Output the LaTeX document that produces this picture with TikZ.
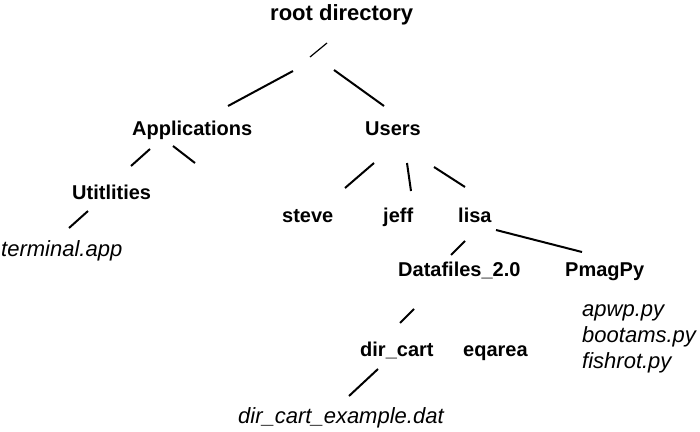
\documentclass[tikz,border=0pt]{standalone}
\usepackage{fontspec}
\setmainfont{Liberation Sans}
\begin{document}
\begin{tikzpicture}[x=1pt,y=-1pt,
  dirlabel/.style={anchor=base west,inner sep=0pt,font=\fontsize{20}{24}\selectfont\bfseries},
  rootlabel/.style={anchor=base west,inner sep=0pt,font=\fontsize{22}{26}\selectfont\bfseries},
  filelabel/.style={anchor=base west,inner sep=0pt,font=\fontsize{22}{26}\selectfont\itshape},
  link/.style={line width=2pt}]
\useasboundingbox (0,0) rectangle (700,431);
% labels
\node[rootlabel] (root) at (270,20) {root directory};
\node[dirlabel] (apps) at (132,135) {Applications};
\node[dirlabel] (users) at (365,135) {Users};
\node[dirlabel] (util) at (72,199) {Utitlities};
\node[filelabel] (term) at (1,256) {terminal.app};
\node[dirlabel] (steve) at (282,222) {steve};
\node[dirlabel] (jeff) at (383,222) {jeff};
\node[dirlabel] (lisa) at (458,222) {lisa};
\node[dirlabel] (data) at (398,276) {Datafiles\_2.0};
\node[dirlabel] (pmag) at (565,276) {PmagPy};
\node[filelabel] (apwp) at (582,316) {apwp.py};
\node[filelabel] (boot) at (582,342) {bootams.py};
\node[filelabel] (fish) at (582,368) {fishrot.py};
\node[dirlabel] (dircart) at (360,356) {dir\_cart};
\node[dirlabel] (eqarea) at (463,356) {eqarea};
\node[filelabel] (example) at (238,423) {dir\_cart\_example.dat};
% connector end points
\coordinate (r1a) at (327,43);  \coordinate (r1b) at (310,57);
\coordinate (ra1) at (293,71);  \coordinate (ra2) at (228,106);
\coordinate (ru1) at (334,70);  \coordinate (ru2) at (384,106);
\coordinate (au1) at (150,149); \coordinate (au2) at (131,166);
\coordinate (ax1) at (173,146); \coordinate (ax2) at (195,163);
\coordinate (ut1) at (88,211);  \coordinate (ut2) at (69,228);
\coordinate (us1) at (374,163); \coordinate (us2) at (345,188);
\coordinate (uj1) at (407,163); \coordinate (uj2) at (411,191);
\coordinate (ul1) at (434,167); \coordinate (ul2) at (465,187);
\coordinate (ld1) at (465,241); \coordinate (ld2) at (451,255);
\coordinate (lp1) at (496,230); \coordinate (lp2) at (582,252);
\coordinate (dd1) at (414,309); \coordinate (dd2) at (400,323);
\coordinate (de1) at (378,369); \coordinate (de2) at (349,396);
% connectors
\draw[line width=1.2pt] (r1a) -- (r1b);
\draw[link] (ra1) -- (ra2);
\draw[link] (ru1) -- (ru2);
\draw[link] (au1) -- (au2);
\draw[link] (ax1) -- (ax2);
\draw[link] (ut1) -- (ut2);
\draw[link] (us1) -- (us2);
\draw[link] (uj1) -- (uj2);
\draw[link] (ul1) -- (ul2);
\draw[link] (ld1) -- (ld2);
\draw[link] (lp1) -- (lp2);
\draw[link] (dd1) -- (dd2);
\draw[link] (de1) -- (de2);
\end{tikzpicture}
\end{document}
